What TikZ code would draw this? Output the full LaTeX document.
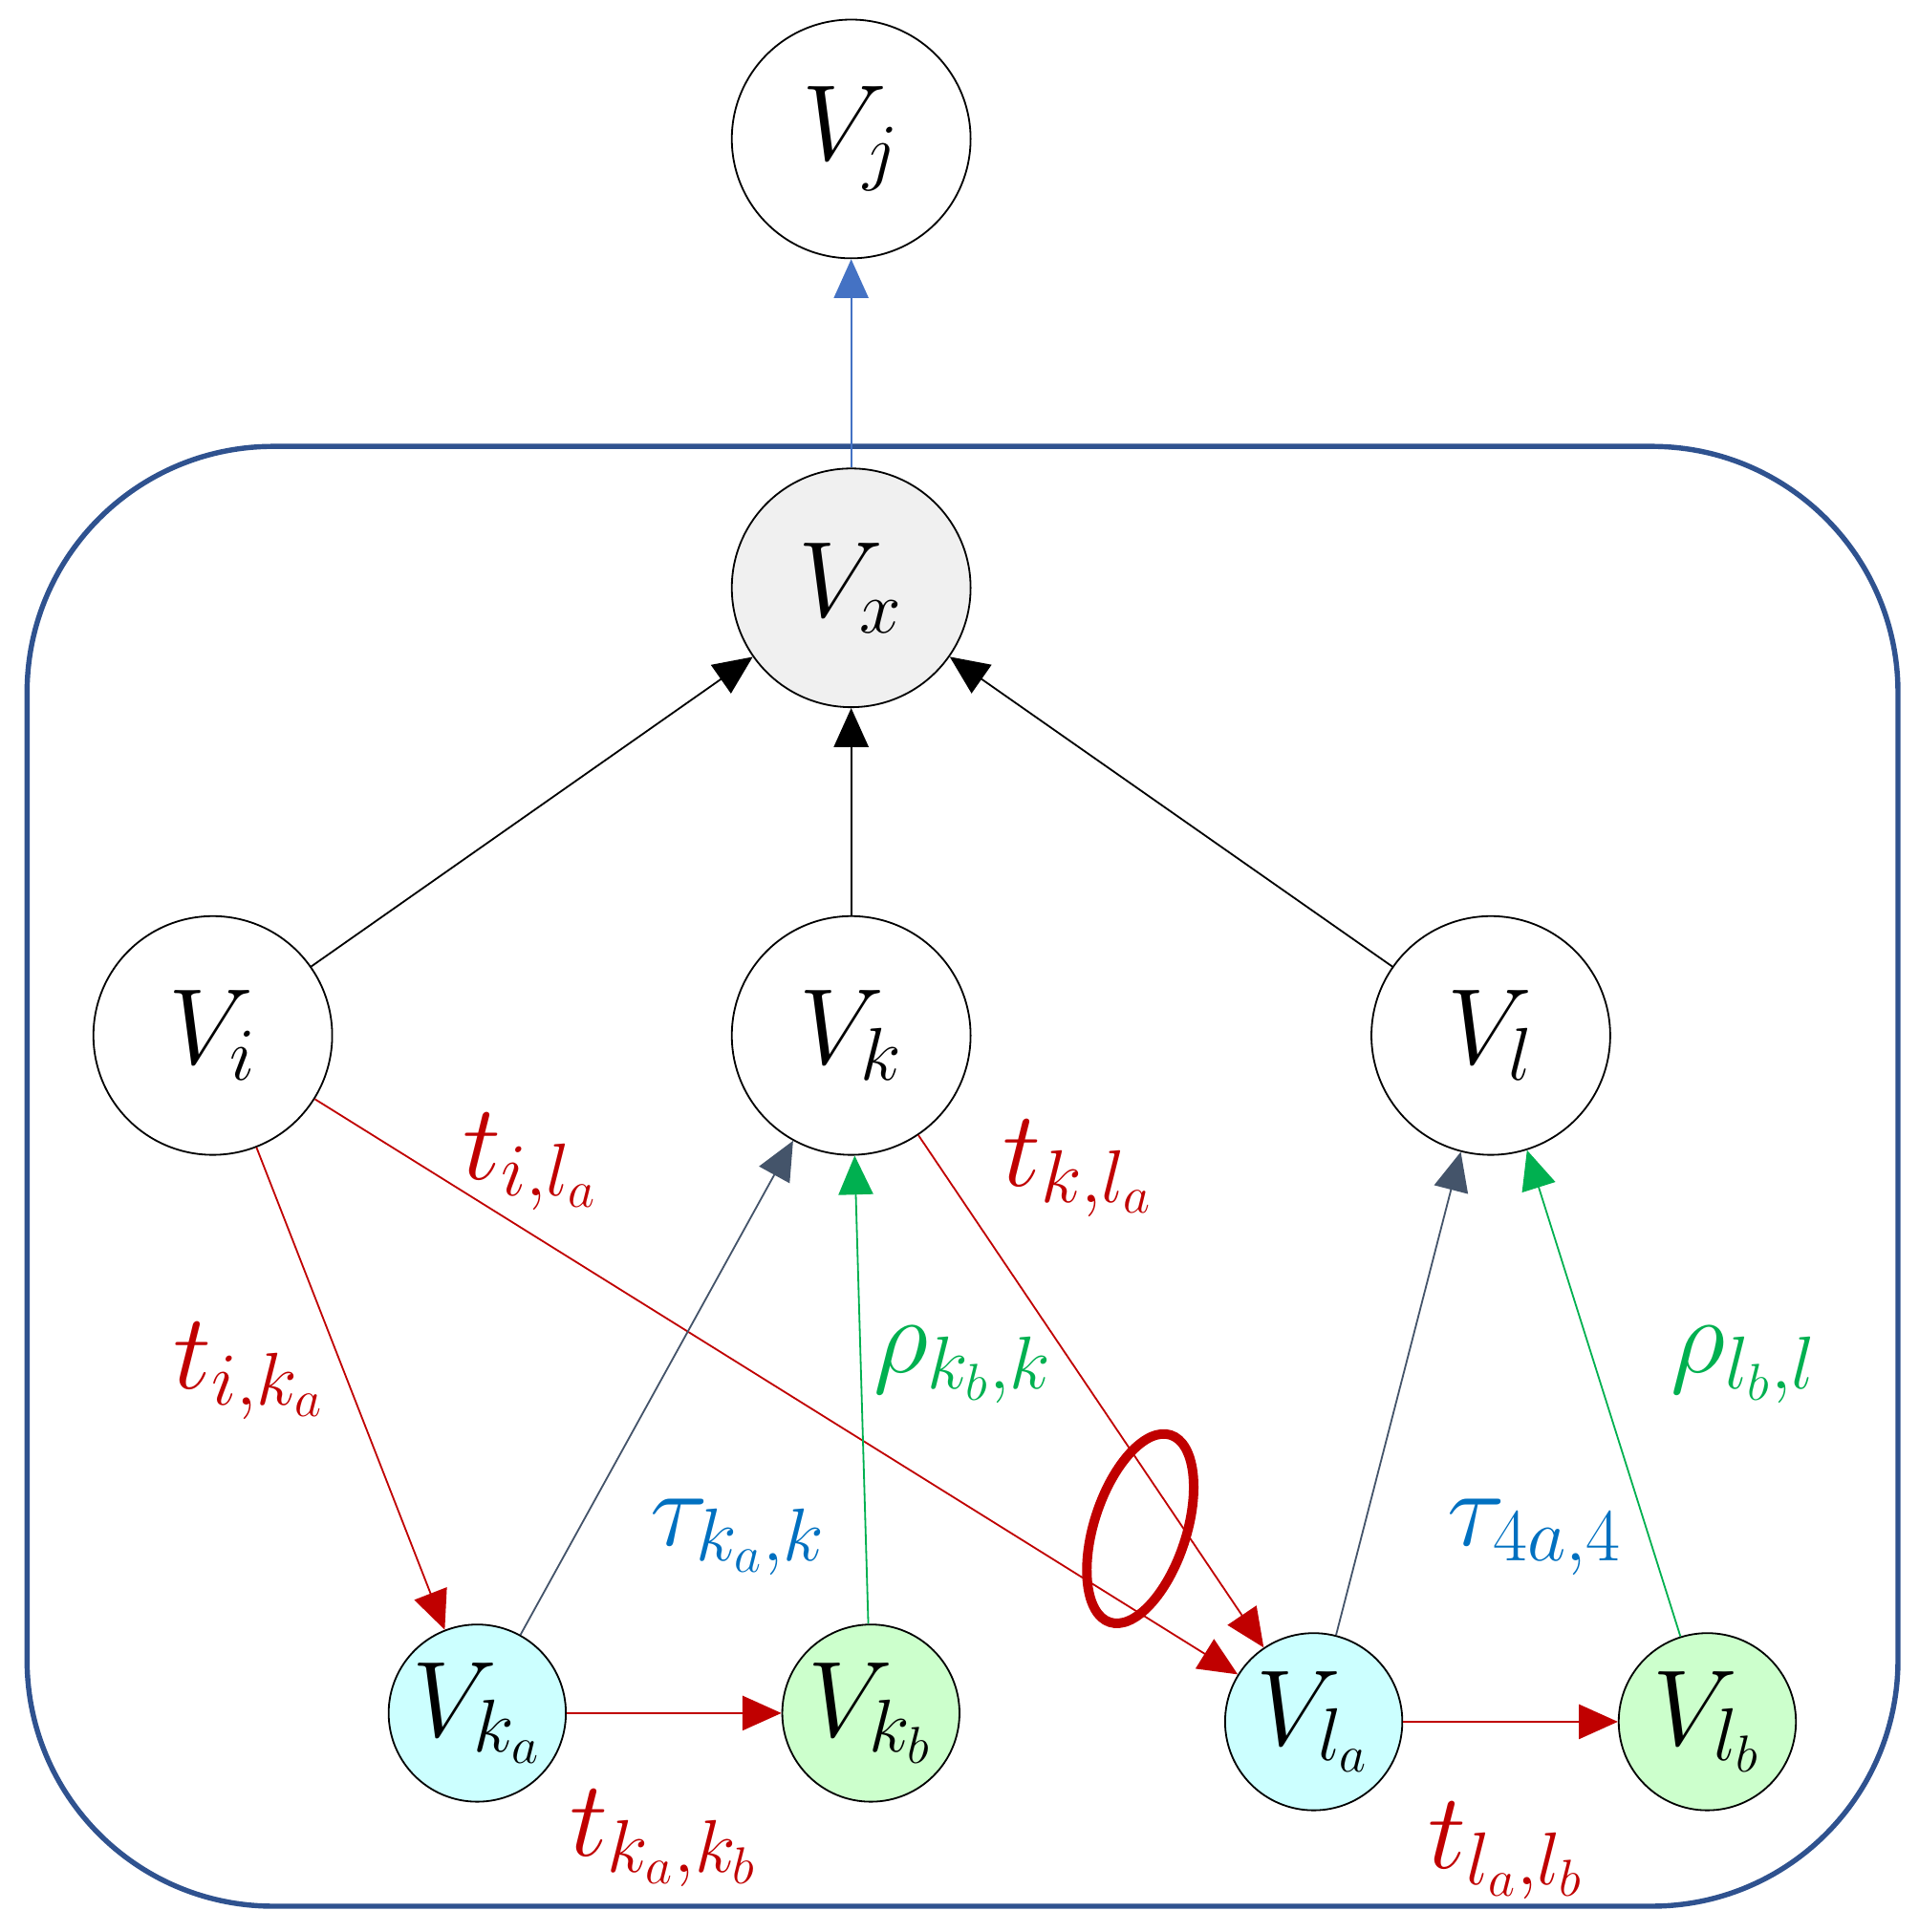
\documentclass[tikz,border=0pt]{standalone}
\usepackage{amsmath}
\usetikzlibrary{arrows.meta,positioning,shapes}

\definecolor{tred}{RGB}{192,0,0}
\definecolor{rgreen}{RGB}{0,176,80}
\definecolor{tblue}{RGB}{0,112,192}
\definecolor{slate}{RGB}{68,84,106}
\definecolor{boxblue}{RGB}{47,82,143}
\definecolor{upblue}{RGB}{68,114,196}
\definecolor{lcyan}{RGB}{204,255,255}
\definecolor{lgreen}{RGB}{204,255,204}

\begin{document}
\begin{tikzpicture}[x=0.01cm,y=-0.01cm,>={Triangle[length=9pt,width=8pt]},thin,
  big/.style={circle,draw,thin,minimum size=1.94cm,inner sep=0pt,font=\fontsize{26}{28}\selectfont},
  small/.style={circle,draw,thin,minimum size=1.44cm,inner sep=0pt,font=\fontsize{24}{26}\selectfont},
  lab/.style={font=\fontsize{23}{26}\selectfont}]

  \useasboundingbox (0,0) rectangle (1560,1571);
  \draw[boxblue,line width=1.2pt,rounded corners=2cm] (22,363) rectangle (1543,1550);

  \node[big] (J) at (692,113) {$V_j$};
  \node[big,fill=gray!12] (X) at (692,478) {$V_x$};
  \node[big] (I) at (173,842) {$V_i$};
  \node[big] (K) at (692,842) {$V_k$};
  \node[big] (L) at (1212,842) {$V_l$};
  \node[small,fill=lcyan] (KA) at (388,1393) {$V_{k_a}$};
  \node[small,fill=lgreen] (KB) at (708,1393) {$V_{k_b}$};
  \node[small,fill=lcyan] (LA) at (1068,1400) {$V_{l_a}$};
  \node[small,fill=lgreen] (LB) at (1388,1400) {$V_{l_b}$};

  \draw[->,upblue] (X) -- (J);
  \draw[->] (I) -- (X);
  \draw[->] (K) -- (X);
  \draw[->] (L) -- (X);

  \draw[->,tred] (I) -- (KA);
  \draw[->,tred] (I) -- (LA);
  \draw[->,tred] (K) -- (LA);
  \draw[->,tred] (KA) -- (KB);
  \draw[->,tred] (LA) -- (LB);
  \draw[->,slate] (KA) -- (K);
  \draw[->,slate] (LA) -- (L);
  \draw[->,rgreen] (KB) -- (K);
  \draw[->,rgreen] (LB) -- (L);

  \node[ellipse,draw=tred,line width=2.2pt,minimum width=1.6cm,minimum height=0.75cm,rotate=72] (cut) at (927,1243) {};

  \node[lab,tred] (tila) at (432,945) {$t_{i,l_a}$};
  \node[lab,tred] (tkla) at (877,950) {$t_{k,l_a}$};
  \node[lab,tred] (tika) at (203,1115) {$t_{i,k_a}$};
  \node[lab,rgreen] (rk) at (783,1110) {$\rho_{k_b,k}$};
  \node[lab,tblue] (tauk) at (600,1250) {$\tau_{k_a,k}$};
  \node[lab,tblue] (taul) at (1248,1250) {$\tau_{4a,4}$};
  \node[lab,rgreen] (rl) at (1418,1110) {$\rho_{l_b,l}$};
  \node[lab,tred] (tkk) at (540,1495) {$t_{k_a,k_b}$};
  \node[lab,tred] (tll) at (1225,1505) {$t_{l_a,l_b}$};
\end{tikzpicture}
\end{document}
